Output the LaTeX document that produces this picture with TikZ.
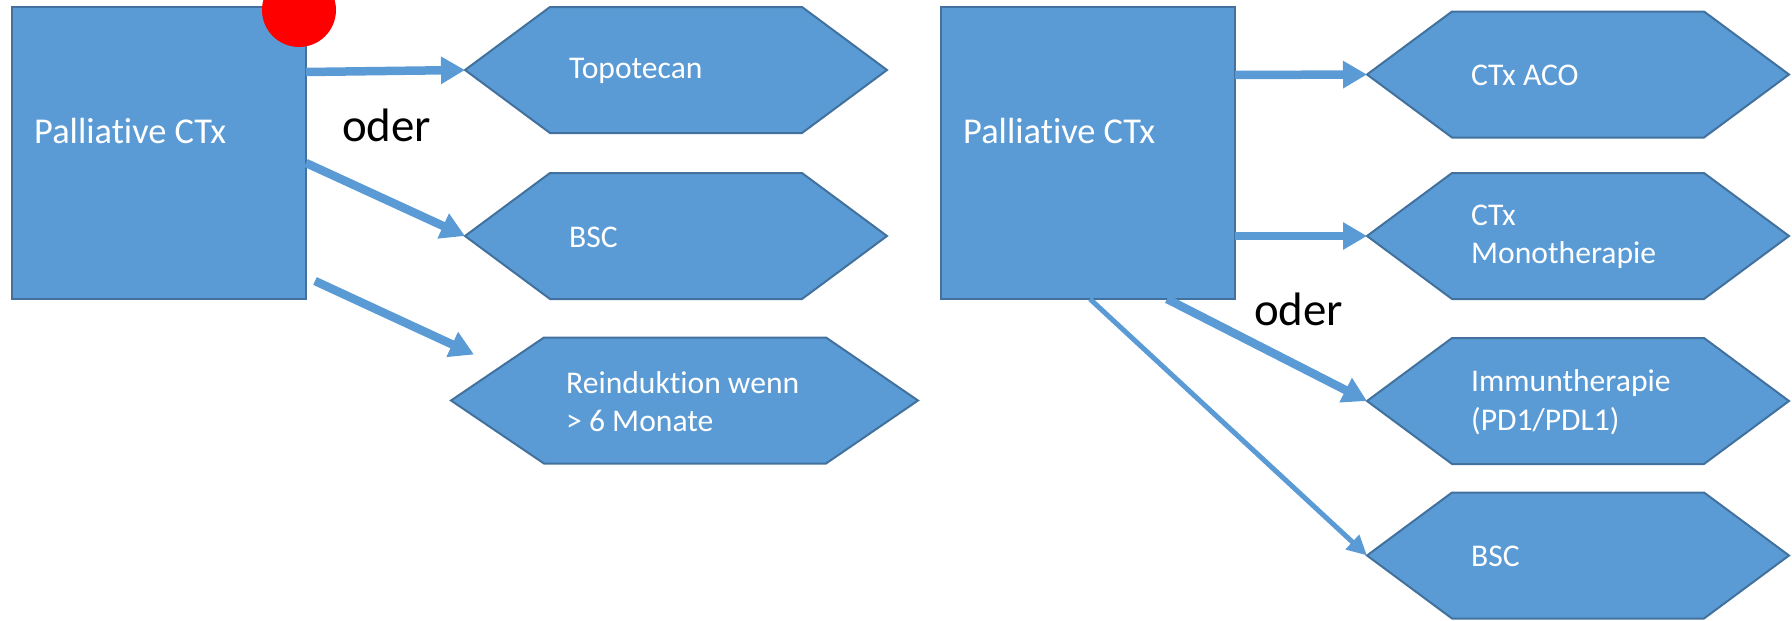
\documentclass[tikz,border=0pt]{standalone}
\usepackage{fontspec}
\setmainfont{Carlito}[Ligatures=NoCommon]
\usetikzlibrary{calc}
\usetikzlibrary{arrows.meta}

\definecolor{boxblue}{HTML}{5B9BD5}
\definecolor{edgeblue}{HTML}{41719C}

\begin{document}
\begin{tikzpicture}[x=1pt,y=-1pt,
	ctxbox/.style={rectangle,fill=boxblue,draw=edgeblue,line width=2pt,inner sep=0pt,outer sep=0pt,minimum width=294pt,minimum height=292pt},
	hexbox/.style={rectangle,inner sep=0pt,outer sep=0pt,minimum height=126pt},
	hexline/.style={fill=boxblue,draw=edgeblue,line width=2pt},
	bigtext/.style={anchor=west,text=white,inner sep=0pt,font=\fontsize{36.4}{44}\selectfont},
	smalltext/.style={anchor=west,text=white,inner sep=0pt,align=left,font=\fontsize{31.6}{38.5}\selectfont},
	odertext/.style={anchor=base west,inner sep=0pt,font=\fontsize{46.9}{56}\selectfont},
	fatarrow/.style={boxblue,line width=8.5pt,-{Triangle[length=24pt,width=26pt]}},
	slimarrow/.style={boxblue,line width=5pt,-{Triangle[length=20pt,width=19pt]}}]

	\useasboundingbox (0,0) rectangle (1792,621);

	\node[ctxbox] (lctx) at (159,153) {};
	\node[ctxbox] (rctx) at (1088,153) {};

	\node[bigtext] (lctx-t) at ($(lctx.west)+(22,-22)$) {Palliative CTx};
	\node[bigtext] (rctx-t) at ($(rctx.west)+(22,-22)$) {Palliative CTx};

	\node[circle,fill=red,minimum size=74pt,inner sep=0pt] (dot) at (299,10) {};

	\node[hexbox,minimum width=422pt] (topo) at (676,70) {};
	\node[hexbox,minimum width=422pt] (lbsc) at (676,236) {};
	\node[hexbox,minimum width=467pt] (reind) at (684.5,400.5) {};

	\node[hexbox,minimum width=422pt] (aco) at (1578,74.5) {};
	\node[hexbox,minimum width=422pt] (mono) at (1578,236) {};
	\node[hexbox,minimum width=422pt] (immu) at (1578,401) {};
	\node[hexbox,minimum width=422pt] (rbsc) at (1578,555.5) {};

	\draw[hexline] (topo.west) -- ($(topo.north west)+(85,0)$) -- ($(topo.north east)-(85,0)$) -- (topo.east) -- ($(topo.south east)-(85,0)$) -- ($(topo.south west)+(85,0)$) -- cycle;
	\draw[hexline] (lbsc.west) -- ($(lbsc.north west)+(85,0)$) -- ($(lbsc.north east)-(85,0)$) -- (lbsc.east) -- ($(lbsc.south east)-(85,0)$) -- ($(lbsc.south west)+(85,0)$) -- cycle;
	\draw[hexline] (reind.west) -- ($(reind.north west)+(93,0)$) -- ($(reind.north east)-(92,0)$) -- (reind.east) -- ($(reind.south east)-(92,0)$) -- ($(reind.south west)+(93,0)$) -- cycle;

	\draw[hexline] (aco.west) -- ($(aco.north west)+(85,0)$) -- ($(aco.north east)-(85,0)$) -- (aco.east) -- ($(aco.south east)-(85,0)$) -- ($(aco.south west)+(85,0)$) -- cycle;
	\draw[hexline] (mono.west) -- ($(mono.north west)+(85,0)$) -- ($(mono.north east)-(85,0)$) -- (mono.east) -- ($(mono.south east)-(85,0)$) -- ($(mono.south west)+(85,0)$) -- cycle;
	\draw[hexline] (immu.west) -- ($(immu.north west)+(85,0)$) -- ($(immu.north east)-(85,0)$) -- (immu.east) -- ($(immu.south east)-(85,0)$) -- ($(immu.south west)+(85,0)$) -- cycle;
	\draw[hexline] (rbsc.west) -- ($(rbsc.north west)+(85,0)$) -- ($(rbsc.north east)-(85,0)$) -- (rbsc.east) -- ($(rbsc.south east)-(85,0)$) -- ($(rbsc.south west)+(85,0)$) -- cycle;

	\node[smalltext] (topo-t) at ($(topo.west)+(104,1)$) {Topotecan};
	\node[smalltext] (lbsc-t) at ($(lbsc.west)+(104,1)$) {BSC};
	\node[smalltext] (reind-t) at ($(reind.west)+(115,1)$) {Reinduktion wenn\\> 6 Monate};

	\node[smalltext] (aco-t) at ($(aco.west)+(104,1)$) {CTx ACO};
	\node[smalltext] (mono-t) at ($(mono.west)+(104,1)$) {CTx\\Monotherapie};
	\node[smalltext] (immu-t) at ($(immu.west)+(104,1)$) {Immuntherapie\\(PD1/PDL1)};
	\node[smalltext] (rbsc-t) at ($(rbsc.west)+(104,1)$) {BSC};

	\node[odertext] (loder) at (342,141) {oder};
	\node[odertext] (roder) at (1254,325) {oder};

	\coordinate (reind-in) at ($(reind.north west)+(23,17)$);

	\draw[fatarrow] ($(lctx.north east)+(0,65)$) -- (topo.west);
	\draw[fatarrow] ($(lctx.north east)+(0,156)$) -- (lbsc.west);
	\draw[fatarrow] ($(lctx.north east)+(9,274)$) -- (reind-in);

	\draw[fatarrow] ($(rctx.north east)+(0,68)$) -- (aco.west);
	\draw[fatarrow] ($(rctx.north east)+(0,229)$) -- (mono.west);
	\draw[fatarrow] ($(rctx.south east)+(-68,0)$) -- (immu.west);
	\draw[slimarrow] ($(rctx.south east)+(-145,0)$) -- (rbsc.west);

\end{tikzpicture}
\end{document}
